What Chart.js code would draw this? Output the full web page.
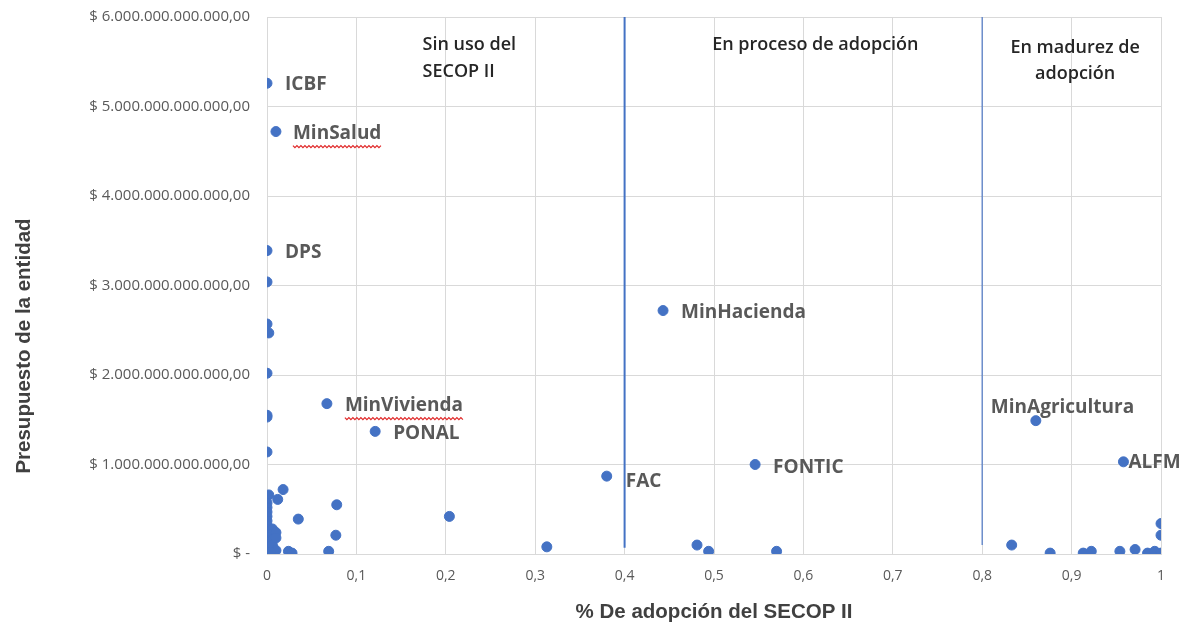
<!DOCTYPE html>
<html>
<head>
<meta charset="utf-8">
<script src="https://cdn.jsdelivr.net/npm/chart.js@4.4.1/dist/chart.umd.min.js"></script>
<style>
  html, body { margin: 0; padding: 0; background: #ffffff; }
  #wrap { width: 1196px; height: 626px; }
</style>
</head>
<body>
<div id="wrap"><canvas id="chart" width="1196" height="626"></canvas></div>
<script>
// % de adopción del SECOP II (eje x) y presupuesto de la entidad en pesos (eje y)
const adopcion = [
    0, 0.01, 0, 0, 0, 0.002, 0, 0, 0, 0,
    0.067, 0.121, 0.443, 0.38, 0.546, 0.86, 0.958,
    0.018, 0.002, 0.012, 0.078, 0.035, 0.077, 0.069, 0.024, 0.028,
    0, 0, 0, 0, 0, 0, 0, 0, 0, 0, 0, 0, 0,
    0.006, 0.006, 0.006, 0.006, 0.01, 0.01, 0.01, 0.004,
    0.204, 0.313, 0.481, 0.494, 0.57,
    0.833, 0.876, 0.913, 0.922, 0.954, 0.971, 0.985, 0.993, 1, 1, 1
];
const presupuesto = [
    5.26e12, 4.72e12, 3.39e12, 3.04e12, 2.57e12, 2.47e12, 2.02e12, 1.55e12, 1.53e12, 1.14e12,
    1.68e12, 1.37e12, 2.72e12, 0.87e12, 1.0e12, 1.49e12, 1.03e12,
    0.72e12, 0.66e12, 0.61e12, 0.55e12, 0.39e12, 0.21e12, 0.03e12, 0.03e12, 0.01e12,
    0.57e12, 0.52e12, 0.47e12, 0.42e12, 0.37e12, 0.32e12, 0.27e12, 0.22e12, 0.17e12, 0.12e12, 0.07e12, 0.03e12, 0.01e12,
    0.28e12, 0.22e12, 0.16e12, 0.10e12, 0.24e12, 0.18e12, 0.04e12, 0.02e12,
    0.42e12, 0.08e12, 0.10e12, 0.03e12, 0.03e12,
    0.10e12, 0.01e12, 0.01e12, 0.03e12, 0.03e12, 0.05e12, 0.01e12, 0.03e12, 0.01e12, 0.21e12, 0.34e12
];
const entidad = [
    'ICBF', 'MinSalud', 'DPS', '', '', '', '', '', '', '',
    'MinVivienda', 'PONAL', 'MinHacienda', 'FAC', 'FONTIC', 'MinAgricultura', 'ALFM'
];

// líneas que separan las etapas de adopción
const cortesEtapa = [0.4, 0.8];
const baseCorte = [0.07e12, 0.1e12];
const topeCorte = 6e12;
const etapas = [
    { lineas: ['Sin uso del', 'SECOP II'], x: 0.174, y: [5.69e12, 5.39e12], align: 'left' },
    { lineas: ['En proceso de adopción'], x: 0.498, y: [5.69e12], align: 'left' },
    { lineas: ['En madurez de', 'adopción'], x: 0.904, y: [5.66e12, 5.37e12], align: 'center' }
];

const xTickLabels = ['0', '0,1', '0,2', '0,3', '0,4', '0,5', '0,6', '0,7', '0,8', '0,9', '1'];
const yTickLabels = [
    '$ -',
    '$ 1.000.000.000.000,00',
    '$ 2.000.000.000.000,00',
    '$ 3.000.000.000.000,00',
    '$ 4.000.000.000.000,00',
    '$ 5.000.000.000.000,00',
    '$ 6.000.000.000.000,00'
];
const tituloY = 'Presupuesto de la entidad';

// desplazamiento de cada etiqueta respecto a su punto (px)
const desplazamiento = {
    ICBF: [18, 1], MinSalud: [17, 2], DPS: [18, 2], MinVivienda: [18, 2], PONAL: [18, 2],
    MinHacienda: [18, 2], FAC: [19, 5], FONTIC: [18, 3], MinAgricultura: [-45, -13], ALFM: [5, 1]
};
const subrayado = ['MinSalud', 'MinVivienda'];

const azul = '#4472C4';

const puntos = adopcion.map((x, i) => ({ x: x, y: presupuesto[i] }));

const datasets = [{
    type: 'scatter',
    data: puntos,
    backgroundColor: azul,
    borderColor: azul,
    pointRadius: 5,
    pointHoverRadius: 5,
    order: 1
}];
cortesEtapa.forEach((c, i) => {
    datasets.push({
        type: 'line',
        data: [{ x: c, y: baseCorte[i] }, { x: c, y: topeCorte }],
        borderColor: i === 0 ? azul : 'rgba(68,114,196,0.75)',
        borderWidth: i === 0 ? 2 : 1.5,
        pointRadius: 0,
        fill: false,
        order: 2
    });
});

const etiquetas = {
    id: 'etiquetas',
    afterDatasetsDraw(chart) {
        const ctx = chart.ctx;
        const xs = chart.scales.x, ys = chart.scales.y;
        ctx.save();
        // nombres de entidades
        ctx.font = 'bold 19px "Open Sans"';
        ctx.fillStyle = '#595959';
        ctx.textBaseline = 'middle';
        ctx.textAlign = 'left';
        entidad.forEach((nombre, i) => {
            if (!nombre) return;
            const d = desplazamiento[nombre] || [18, 0];
            const px = xs.getPixelForValue(adopcion[i]) + d[0];
            const py = ys.getPixelForValue(presupuesto[i]) + d[1];
            ctx.fillText(nombre, px, py);
            if (subrayado.includes(nombre)) {
                const w = ctx.measureText(nombre).width;
                ctx.strokeStyle = '#e02828';
                ctx.lineWidth = 1.2;
                ctx.beginPath();
                const yy = py + 12;
                for (let k = 0; k <= w; k += 2) {
                    const off = (k / 2) % 2 === 0 ? 0 : 2;
                    if (k === 0) ctx.moveTo(px + k, yy + off); else ctx.lineTo(px + k, yy + off);
                }
                ctx.stroke();
            }
        });
        // etapas
        ctx.font = '600 18px "Open Sans"';
        ctx.fillStyle = '#262626';
        etapas.forEach(e => {
            ctx.textAlign = e.align;
            e.lineas.forEach((t, k) => {
                ctx.fillText(t, xs.getPixelForValue(e.x), ys.getPixelForValue(e.y[k]));
            });
        });
        // título del eje y (desplazado hacia abajo como en el original)
        ctx.translate(24, 346);
        ctx.rotate(-Math.PI / 2);
        ctx.textAlign = 'center';
        ctx.font = 'bold 20.5px "Liberation Sans"';
        ctx.fillStyle = '#404040';
        ctx.fillText(tituloY, 0, 0);
        ctx.restore();
    }
};

new Chart(document.getElementById('chart').getContext('2d'), {
    data: { datasets: datasets },
    options: {
        responsive: false,
        animation: false,
        layout: { padding: { left: 4, right: 35, top: 17, bottom: 1 } },
        plugins: {
            legend: { display: false },
            tooltip: { enabled: false }
        },
        scales: {
            x: {
                type: 'linear',
                min: 0,
                max: 1,
                ticks: {
                    stepSize: 0.1,
                    padding: 14,
                    color: '#595959',
                    font: { family: 'Open Sans', size: 14 },
                    callback: (v, i) => xTickLabels[i]
                },
                grid: { color: '#d9d9d9', drawTicks: false },
                border: { color: '#d9d9d9' },
                title: {
                    display: true,
                    text: '% De adopción del SECOP II',
                    color: '#404040',
                    font: { family: 'Liberation Sans', size: 20.5, weight: 'bold' },
                    padding: { top: 0, bottom: 0 }
                },
                afterFit: s => { s.height = 71; s.paddingLeft = 0; s.paddingRight = 0; }
            },
            y: {
                type: 'linear',
                min: 0,
                max: 6e12,
                ticks: {
                    stepSize: 1e12,
                    padding: 17,
                    color: '#595959',
                    font: { family: 'Open Sans', size: 15 },
                    callback: (v, i) => yTickLabels[i]
                },
                grid: { color: '#d9d9d9', drawTicks: false },
                border: { color: '#d9d9d9' },
                afterFit: s => { s.width = 263; s.paddingTop = 0; s.paddingBottom = 0; }
            }
        }
    },
    plugins: [etiquetas]
});
</script>
</body>
</html>
